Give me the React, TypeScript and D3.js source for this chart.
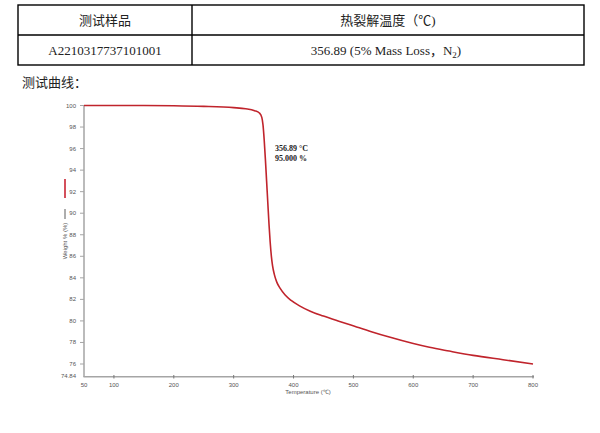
import React from "react";
import * as d3 from "d3";

const temps = [50, 100, 150, 200, 250, 300, 320, 335, 343, 347, 349, 351, 353, 355, 357, 359, 361, 363, 365, 368, 372, 378, 386, 396, 410, 428, 450, 477, 502, 530, 560, 600, 627, 660, 700, 750, 800];
const weights = [100, 100, 100, 99.98, 99.92, 99.8, 99.7, 99.52, 99.3, 98.9, 98.2, 96.8, 95.0, 93.0, 91.0, 89.0, 87.3, 86.0, 85.1, 84.3, 83.6, 83.0, 82.4, 81.9, 81.4, 80.9, 80.45, 79.95, 79.5, 79.0, 78.5, 77.9, 77.55, 77.2, 76.8, 76.4, 76.0];
const yTicks = [76, 78, 80, 82, 84, 86, 88, 90, 92, 94, 96, 98, 100];
const yMinLabel = "74.84";
const xTicks = [100, 200, 300, 400, 500, 600, 700, 800];
const xMinLabel = "50";
const tableHeader = ["测试样品", "热裂解温度（℃)"];
const tableRow = ["A2210317737101001", "356.89 (5% Mass Loss，N"];
const annotation = ["356.89 °C", "95.000 %"];

export default function App() {
  const x = d3.scaleLinear().domain([50, 800]).range([84, 533]);
  const y = d3.scaleLinear().domain([74.84, 100]).range([376.5, 105.5]);
  const data = temps.map((t, i) => [t, weights[i]] as [number, number]);
  const line = d3
    .line<[number, number]>()
    .x((d) => x(d[0]))
    .y((d) => y(d[1]))
    .curve(d3.curveMonotoneX);

  const serif = "'Liberation Serif', 'Noto Sans CJK SC', serif";
  const sans = "'Liberation Sans', Arial, sans-serif";
  const axisColor = "#a5a5a5";
  const labelColor = "#555";

  return (
    <svg
      width={600}
      height={433}
      style={{ position: "absolute", left: 0, top: 0, background: "#fff" }}
    >
      {/* table */}
      <g stroke="#000" strokeWidth={1.4} fill="none">
        <rect x={18} y={5} width={566} height={60} />
        <line x1={18} x2={584} y1={35} y2={35} />
        <line x1={192} x2={192} y1={5} y2={65} />
      </g>
      <g fontFamily={serif} fontSize={13} fill="#222" textAnchor="middle">
        <text x={105} y={24.5}>{tableHeader[0]}</text>
        <text x={388} y={24.5}>{tableHeader[1]}</text>
        <text x={105} y={54.5}>{tableRow[0]}</text>
        <text x={386} y={54.5}>
          {tableRow[1]}
          <tspan fontSize={9} dy={3}>2</tspan>
          <tspan dy={-3}>)</tspan>
        </text>
      </g>
      <text x={22} y={87} fontFamily={serif} fontSize={13} fill="#222">
        测试曲线：
      </text>

      {/* axes */}
      <line x1={84} x2={84} y1={105} y2={377} stroke={axisColor} strokeWidth={1.5} />
      <line x1={83.5} x2={534} y1={376.8} y2={376.8} stroke={axisColor} strokeWidth={1.5} />
      <g fontFamily={sans} fontSize={6} fill={labelColor}>
        {yTicks.map((t) => (
          <g key={t}>
            <line x1={80} x2={84} y1={y(t)} y2={y(t)} stroke={axisColor} strokeWidth={1} />
            <text x={76} y={y(t) + 2} textAnchor="end">{t}</text>
          </g>
        ))}
        <text x={76} y={y(74.84) + 1} textAnchor="end">{yMinLabel}</text>
        {xTicks.map((t) => (
          <g key={t}>
            <line x1={x(t)} x2={x(t)} y1={375} y2={378.5} stroke="#777" strokeWidth={1} />
            <text x={x(t)} y={387} textAnchor="middle">{t}</text>
          </g>
        ))}
        <text x={x(50)} y={387} textAnchor="middle">{xMinLabel}</text>
        <text x={308} y={394} textAnchor="middle">Temperature (℃)</text>
        <text
          transform="translate(67,241) rotate(-90)"
          textAnchor="middle"
        >
          Weight % (%)
        </text>
      </g>
      <line x1={65} x2={65} y1={209} y2={219} stroke="#333" strokeWidth={0.8} />
      <line x1={65} x2={65} y1={179} y2={198} stroke="#d4505c" strokeWidth={2} />

      {/* curve */}
      <path d={line(data) || ""} fill="none" stroke="#c0242c" strokeWidth={1.6} />

      {/* annotation */}
      <g fontFamily={serif} fontSize={8} fontWeight="bold" fill="#222">
        <text x={275} y={151}>{annotation[0]}</text>
        <text x={275} y={160.5}>{annotation[1]}</text>
      </g>
    </svg>
  );
}
